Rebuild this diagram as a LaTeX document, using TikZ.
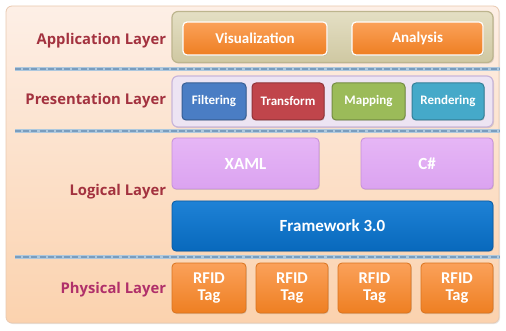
\documentclass[tikz,border=0pt]{standalone}
\usepackage{fontspec}
\setmainfont{Carlito}
\newfontfamily\labelfont{Open Sans}
\usetikzlibrary{shadows}
\definecolor{panelTop}{HTML}{FDEFE6}
\definecolor{panelBot}{HTML}{FBD2AE}
\definecolor{panelEdge}{HTML}{E9C9B0}
\definecolor{layerText}{HTML}{A3323F}
\definecolor{physText}{HTML}{B0306A}
\definecolor{appBoxTop}{HTML}{E4DFC4}
\definecolor{appBoxBot}{HTML}{CFC8A2}
\definecolor{appEdge}{HTML}{BDB58E}
\definecolor{presBox}{HTML}{EDE4F3}
\definecolor{presEdge}{HTML}{C9B6DA}
\definecolor{orangeTop}{HTML}{FBA15A}
\definecolor{orangeBot}{HTML}{EE7F22}
\definecolor{orangeEdge}{HTML}{D9731E}
\definecolor{filtC}{HTML}{4A7DC4}
\definecolor{transC}{HTML}{C0454B}
\definecolor{mapC}{HTML}{9BBB59}
\definecolor{rendC}{HTML}{45A9C9}
\definecolor{violetTop}{HTML}{E6B6F6}
\definecolor{violetC}{HTML}{DBA3F0}
\definecolor{violetEdge}{HTML}{C48FDA}
\definecolor{fwTop}{HTML}{1E82D6}
\definecolor{fwC}{HTML}{0869BC}
\definecolor{fwEdge}{HTML}{0858A0}
\definecolor{sepBand}{HTML}{ADC8DE}
\definecolor{sepDash}{HTML}{7A9DBE}
\tikzset{
  every node/.style={inner sep=0pt, outer sep=0pt},
  layerlabel/.style={anchor=east, font=\labelfont\bfseries\fontsize{14.8}{16}\selectfont, text=layerText},
  block/.style={rounded corners=4pt, draw, line width=0.8pt, text=white,
    font=\bfseries\fontsize{15}{16}\selectfont, align=center,
    drop shadow={shadow xshift=0.8pt, shadow yshift=-1pt, opacity=0.25}},
  orangeblock/.style={block, top color=orangeTop, bottom color=orangeBot, draw=orangeEdge},
  appitem/.style={orangeblock, draw=white, line width=1.2pt},
  presitem/.style={block, font=\bfseries\fontsize{13}{14}\selectfont, line width=1pt},
  logitem/.style={block, font=\bfseries\fontsize{17}{18}\selectfont},
  tagblock/.style={orangeblock, font=\bfseries\fontsize{16.5}{17.5}\selectfont},
  sepband/.style={line width=3.6pt, draw=sepBand},
  sepdash/.style={line width=1.6pt, draw=sepDash, dash pattern=on 6pt off 2.2pt}
}
\begin{document}
\begin{tikzpicture}[x=1pt, y=-1pt]
\useasboundingbox (0,0) rectangle (506,331);
% outer panel
\path[rounded corners=6pt, top color=panelTop, bottom color=panelBot, draw=panelEdge, line width=0.8pt,
  drop shadow={shadow xshift=1pt, shadow yshift=-1pt, opacity=0.2}]
  (6,6) rectangle (499,323);

% separators
\foreach \yy in {69,131,257}{
  \coordinate (sepL) at (15,\yy);
  \coordinate (sepR) at (500,\yy);
  \draw[sepband] (sepL) -- (sepR);
  \draw[sepdash] (sepL) -- (sepR);
}

% layer names
\node[layerlabel] (appL) at (166,41) {Application Layer};
\node[layerlabel] (presL) at (166,101) {Presentation Layer};
\node[layerlabel] (logL) at (166,192) {Logical Layer};
\node[layerlabel, text=physText] (phyL) at (166,290) {Physical Layer};

% application layer
\node[rounded corners=6pt, draw=appEdge, line width=1.2pt, top color=appBoxTop, bottom color=appBoxBot,
  minimum width=321pt, minimum height=51pt,
  drop shadow={shadow xshift=1pt, shadow yshift=-1.2pt, opacity=0.25}] (appBox) at (332.5,37) {};
\node[appitem, minimum width=144pt, minimum height=33pt] (vis) at (255,38.5) {Visualization};
\node[appitem, minimum width=131pt, minimum height=33pt] (ana) at (417.5,38.5) {Analysis};

% presentation layer
\node[rounded corners=6pt, draw=presEdge, line width=1.2pt, fill=presBox,
  minimum width=321pt, minimum height=51pt,
  drop shadow={shadow xshift=1pt, shadow yshift=-1.2pt, opacity=0.25}] (presBoxN) at (332.5,101.5) {};
\node[presitem, fill=filtC, draw=filtC!75!black, minimum width=64pt, minimum height=37pt] (filt) at (214,101.5) {Filtering};
\node[presitem, fill=transC, draw=transC!75!black, minimum width=72pt, minimum height=37pt] (trans) at (288,101.5) {Transform};
\node[presitem, fill=mapC, draw=mapC!75!black, minimum width=73pt, minimum height=37pt] (map) at (368.5,101.5) {Mapping};
\node[presitem, fill=rendC, draw=rendC!75!black, minimum width=72pt, minimum height=37pt] (rend) at (448,101.5) {Rendering};

% logical layer
\node[logitem, top color=violetTop, bottom color=violetC, draw=violetEdge, minimum width=147pt, minimum height=51pt] (xaml) at (245.5,163.5) {XAML};
\node[logitem, top color=violetTop, bottom color=violetC, draw=violetEdge, minimum width=132pt, minimum height=51pt] (cs) at (427,163.5) {C\#};
\node[logitem, top color=fwTop, bottom color=fwC, draw=fwEdge, minimum width=321pt, minimum height=50pt] (fw) at (332.5,226) {Framework 3.0};

% physical layer
\foreach \cx/\w/\nm in {209/74/tagA, 292/72/tagB, 374.5/73/tagC, 457/72/tagD}{
  \node[tagblock, minimum width=\w pt, minimum height=50pt] (\nm) at (\cx,288) {RFID\\Tag};
}
\end{tikzpicture}
\end{document}
